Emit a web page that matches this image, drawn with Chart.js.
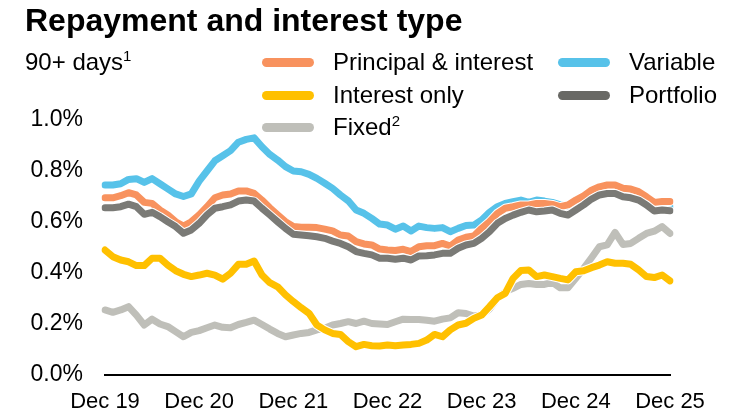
<!DOCTYPE html>
<html>
<head>
<meta charset="utf-8">
<script src="https://cdn.jsdelivr.net/npm/chart.js@4.4.1/dist/chart.umd.min.js"></script>
<style>
  body { margin: 0; background: #fff; font-family: "Liberation Sans", Arial, sans-serif; color: #000; }
  .wrap { position: relative; width: 748px; height: 418px; overflow: hidden; }
  #chart { position: absolute; left: 0; top: 0; }
  .txt { position: absolute; white-space: nowrap; }
  .title { left: 25px; top: 4px; font-size: 32px; font-weight: bold; line-height: 32px; }
  .row { height: 32px; line-height: 32px; font-size: 24px; }
  .sw { position: absolute; width: 52px; height: 9px; border-radius: 5px; }
  sup { font-size: 15px; line-height: 0; vertical-align: 9px; }
</style>
</head>
<body>
<div class="wrap">
  <canvas id="chart" width="748" height="418"></canvas>
  <div class="txt title">Repayment and interest type</div>
  <div class="txt row" style="left:25px; top:46px;">90+ days<sup>1</sup></div>
  <div id="legend"></div>
</div>
<script>
// x tick labels (shown every 12 months)
const xTickLabels = ["Dec 19", "Dec 20", "Dec 21", "Dec 22", "Dec 23", "Dec 24", "Dec 25"];
const yTicks = [0, 0.2, 0.4, 0.6, 0.8, 1.0];

// monthly 90+ day arrears, % (Dec 19 .. Dec 25)
const principalInterest = [
  0.695, 0.695, 0.703, 0.715, 0.706, 0.677, 0.673, 0.647, 0.628, 0.601, 0.584, 0.601, 0.628, 0.66, 0.695, 0.706, 0.71, 0.722,
  0.722, 0.712, 0.686, 0.656, 0.628, 0.601, 0.582, 0.579, 0.579, 0.578, 0.572, 0.565, 0.549, 0.545, 0.523, 0.514, 0.51, 0.494,
  0.49, 0.488, 0.493, 0.484, 0.503, 0.507, 0.507, 0.516, 0.506, 0.529, 0.54, 0.545, 0.575, 0.601, 0.634, 0.654, 0.66, 0.667,
  0.667, 0.673, 0.673, 0.669, 0.66, 0.667, 0.686, 0.703, 0.725, 0.738, 0.745, 0.745, 0.732, 0.729, 0.719, 0.699, 0.677, 0.68, 0.68
];
const interestOnly = [
  0.49, 0.464, 0.451, 0.444, 0.429, 0.429, 0.458, 0.458, 0.431, 0.409, 0.395, 0.386, 0.392, 0.399, 0.392, 0.376, 0.399, 0.434,
  0.434, 0.447, 0.392, 0.362, 0.346, 0.314, 0.288, 0.264, 0.242, 0.196, 0.177, 0.163, 0.159, 0.131, 0.111, 0.12, 0.115, 0.114,
  0.118, 0.115, 0.118, 0.12, 0.124, 0.137, 0.159, 0.15, 0.177, 0.196, 0.203, 0.222, 0.235, 0.268, 0.303, 0.32, 0.379, 0.41,
  0.412, 0.386, 0.392, 0.386, 0.379, 0.373, 0.405, 0.409, 0.421, 0.431, 0.444, 0.438, 0.438, 0.434, 0.412, 0.386, 0.382, 0.392, 0.369
];
const fixed = [
  0.255, 0.246, 0.255, 0.268, 0.235, 0.196, 0.219, 0.2, 0.19, 0.17, 0.15, 0.167, 0.174, 0.185, 0.196, 0.187, 0.185, 0.198,
  0.206, 0.215, 0.198, 0.18, 0.163, 0.15, 0.157, 0.163, 0.167, 0.177, 0.183, 0.196, 0.202, 0.209, 0.202, 0.211, 0.202, 0.2,
  0.198, 0.209, 0.219, 0.218, 0.218, 0.215, 0.211, 0.219, 0.224, 0.244, 0.241, 0.231, 0.235, 0.259, 0.3, 0.327, 0.34, 0.355,
  0.359, 0.355, 0.355, 0.363, 0.342, 0.342, 0.379, 0.418, 0.46, 0.503, 0.51, 0.559, 0.512, 0.516, 0.536, 0.555, 0.564, 0.582, 0.555
];
const variable = [
  0.745, 0.745, 0.75, 0.767, 0.77, 0.755, 0.77, 0.75, 0.73, 0.71, 0.70, 0.71, 0.76, 0.80, 0.84, 0.86, 0.88, 0.913,
  0.924, 0.93, 0.895, 0.865, 0.843, 0.817, 0.80, 0.797, 0.787, 0.771, 0.752, 0.732, 0.706, 0.683, 0.647, 0.634, 0.614, 0.592,
  0.588, 0.572, 0.584, 0.565, 0.584, 0.578, 0.575, 0.578, 0.562, 0.575, 0.586, 0.588, 0.608, 0.638, 0.66, 0.673, 0.68, 0.686,
  0.677, 0.686, 0.682, 0.677, 0.667, 0.663, 0.677, 0.693, 0.712, 0.72, 0.729, 0.725, 0.712, 0.706, 0.69, 0.669, 0.66, 0.663, 0.66
];
const portfolio = [
  0.656, 0.656, 0.66, 0.67, 0.66, 0.63, 0.638, 0.621, 0.601, 0.582, 0.556, 0.569, 0.595, 0.628, 0.654, 0.66, 0.667, 0.682,
  0.686, 0.682, 0.654, 0.628, 0.601, 0.575, 0.552, 0.549, 0.546, 0.542, 0.536, 0.525, 0.516, 0.503, 0.484, 0.477, 0.471, 0.458,
  0.458, 0.454, 0.458, 0.451, 0.467, 0.468, 0.471, 0.477, 0.477, 0.497, 0.51, 0.516, 0.536, 0.562, 0.595, 0.614, 0.627, 0.638,
  0.647, 0.64, 0.643, 0.647, 0.634, 0.627, 0.647, 0.667, 0.69, 0.706, 0.712, 0.712, 0.699, 0.695, 0.686, 0.667, 0.643, 0.647, 0.644
];

const monthNames = ["Jan","Feb","Mar","Apr","May","Jun","Jul","Aug","Sep","Oct","Nov","Dec"];
const labels = [];
for (let i = 0; i < principalInterest.length; i++) {
  const m = (11 + i) % 12;
  const yr = 19 + Math.floor((11 + i) / 12);
  labels.push(`${monthNames[m]} ${yr}`);
}

const colors = {
  pi: "#f8925e",
  io: "#ffc000",
  fixed: "#bfbfb9",
  variable: "#57c2e9",
  portfolio: "#7a7a76",
};

// legend in two columns like the original
const legendItems = [
  { text: "Principal &amp; interest", color: colors.pi, x: 262, y: 62 },
  { text: "Interest only", color: colors.io, x: 262, y: 95 },
  { text: "Fixed<sup>2</sup>", color: colors.fixed, x: 262, y: 127 },
  { text: "Variable", color: colors.variable, x: 558, y: 62 },
  { text: "Portfolio", color: "#696965", x: 558, y: 95 },
];
const legendDiv = document.querySelector("#legend");
legendItems.forEach((item) => {
  const sw = document.createElement("div");
  sw.className = "sw";
  sw.style.left = `${item.x}px`;
  sw.style.top = `${item.y - 4}px`;
  sw.style.background = item.color;
  const label = document.createElement("div");
  label.className = "txt row";
  label.style.left = `${item.x + 71}px`;
  label.style.top = `${item.y - 16}px`;
  label.innerHTML = item.text;
  legendDiv.appendChild(sw);
  legendDiv.appendChild(label);
});

// thin white edge under each line, as in the original
const halo = {
  id: "halo",
  beforeDatasetDraw(chart, args) {
    const pts = args.meta.data;
    const c = chart.ctx;
    c.save();
    c.strokeStyle = "#fff";
    c.lineWidth = 9;
    c.lineJoin = "round";
    c.lineCap = "round";
    c.beginPath();
    pts.forEach((p, i) => (i === 0 ? c.moveTo(p.x, p.y) : c.lineTo(p.x, p.y)));
    c.stroke();
    c.restore();
  },
};

const line = (data, color) => ({
  data: data,
  borderColor: color,
  backgroundColor: color,
  borderWidth: 7,
  pointRadius: 0,
  tension: 0,
  borderJoinStyle: "round",
  borderCapStyle: "round",
});

const ctx = document.querySelector("#chart");
new Chart(ctx, {
  type: "line",
  data: {
    labels: labels,
    datasets: [
      line(portfolio, colors.portfolio),
      line(principalInterest, colors.pi),
      line(variable, colors.variable),
      line(interestOnly, colors.io),
      line(fixed, colors.fixed),
    ],
  },
  plugins: [halo],
  options: {
    responsive: false,
    animation: false,
    layout: { padding: { top: 120, right: 78, bottom: 0, left: 0 } },
    plugins: {
      legend: { display: false },
      tooltip: { enabled: false },
    },
    scales: {
      x: {
        offset: false,
        grid: { display: false, drawTicks: false },
        border: { display: true, color: "#000", width: 2 },
        ticks: {
          autoSkip: false,
          maxRotation: 0,
          padding: 14,
          color: "#000",
          font: { family: "Liberation Sans", size: 22 },
          callback: (val, i) => (i % 12 === 0 ? xTickLabels[i / 12] : null),
        },
        afterFit: (scale) => { scale.height = 43; },
      },
      y: {
        min: yTicks[0],
        max: yTicks[yTicks.length - 1],
        grid: { display: false, drawTicks: false },
        border: { display: false },
        afterBuildTicks: (scale) => { scale.ticks = yTicks.map((v) => ({ value: v })); },
        ticks: {
          padding: 22,
          color: "#000",
          font: { family: "Liberation Sans", size: 23 },
          callback: (v) => `${v.toFixed(1)}%`,
        },
        afterFit: (scale) => { scale.width = 105; },
      },
    },
  },
});
</script>
</body>
</html>
